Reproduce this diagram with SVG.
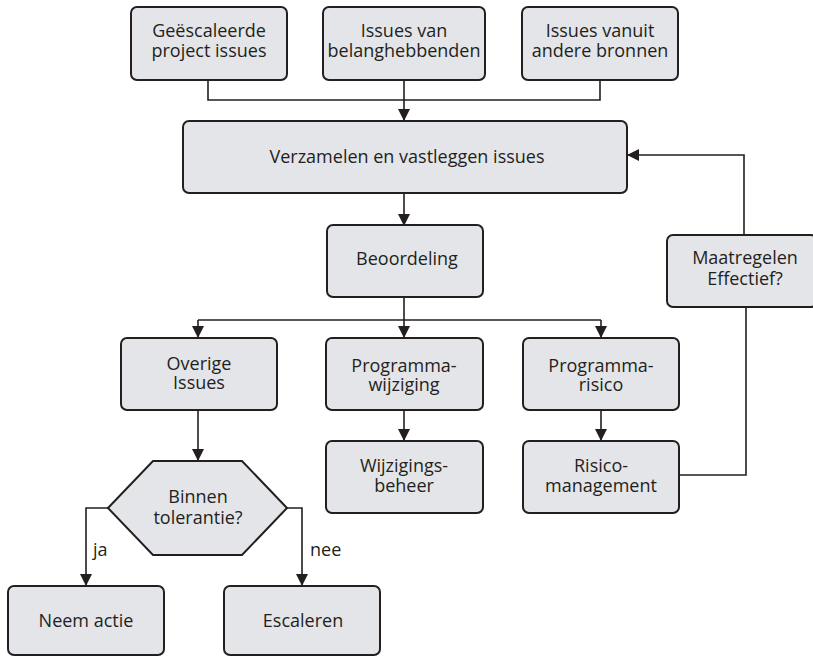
<svg xmlns="http://www.w3.org/2000/svg" width="813" height="657" viewBox="0 0 813 657">
  <style>
    .box { fill: #e4e5e9; stroke: #231f20; stroke-width: 2; }
    .lbl { font-family: "Open Sans", "Noto Sans", "Liberation Sans", sans-serif; font-size: 18px; fill: #231f20; text-anchor: middle; }
    .side { font-family: "Open Sans", "Noto Sans", "Liberation Sans", sans-serif; font-size: 18px; fill: #231f20; }
    .wire { fill: none; stroke: #231f20; stroke-width: 1.6; }
  </style>
  <defs>
    <marker id="arrow" markerWidth="12" markerHeight="12" refX="11" refY="6" orient="auto" markerUnits="userSpaceOnUse">
      <path d="M0,0 L12,6 L0,12 Z" fill="#231f20"/>
    </marker>
  </defs>

  <rect width="813" height="657" fill="#ffffff"/>

  <!-- connectors -->
  <g id="connectors">
    <path class="wire" d="M208,80 V100 H600 V80"/>
    <path class="wire" d="M404,80 V120" marker-end="url(#arrow)"/>
    <path class="wire" d="M404,193 V225" marker-end="url(#arrow)"/>
    <path class="wire" d="M404,297 V320"/>
    <path class="wire" d="M198,320 H601"/>
    <path class="wire" d="M198,320 V337" marker-end="url(#arrow)"/>
    <path class="wire" d="M404,320 V337" marker-end="url(#arrow)"/>
    <path class="wire" d="M601,320 V337" marker-end="url(#arrow)"/>
    <path class="wire" d="M404,410 V440" marker-end="url(#arrow)"/>
    <path class="wire" d="M601,410 V440" marker-end="url(#arrow)"/>
    <path class="wire" d="M198,410 V460" marker-end="url(#arrow)"/>
    <path class="wire" d="M108,508 H86 V585" marker-end="url(#arrow)"/>
    <path class="wire" d="M287,508 H302 V585" marker-end="url(#arrow)"/>
    <path class="wire" d="M679,475 H746 V307"/>
    <path class="wire" d="M744,235 V155 H628" marker-end="url(#arrow)"/>
    <text class="side" x="93" y="556">ja</text>
    <text class="side" x="310" y="556">nee</text>
  </g>

  <g id="geescaleerde">
    <rect class="box" x="131" y="7" width="156" height="73" rx="6"/>
    <text class="lbl" x="209" y="37">Geëscaleerde</text>
    <text class="lbl" x="209" y="57">project issues</text>
  </g>
  <g id="belanghebbenden">
    <rect class="box" x="323" y="7" width="162" height="73" rx="6"/>
    <text class="lbl" x="404" y="37">Issues van</text>
    <text class="lbl" x="404" y="57">belanghebbenden</text>
  </g>
  <g id="andere-bronnen">
    <rect class="box" x="522" y="7" width="156" height="73" rx="6"/>
    <text class="lbl" x="600" y="37">Issues vanuit</text>
    <text class="lbl" x="600" y="57">andere bronnen</text>
  </g>
  <g id="verzamelen">
    <rect class="box" x="183" y="121" width="444" height="72" rx="6"/>
    <text class="lbl" x="407" y="163">Verzamelen en vastleggen issues</text>
  </g>
  <g id="beoordeling">
    <rect class="box" x="327" y="225" width="156" height="72" rx="6"/>
    <text class="lbl" x="407" y="265">Beoordeling</text>
  </g>
  <g id="maatregelen">
    <rect class="box" x="667" y="235" width="150" height="72" rx="6"/>
    <text class="lbl" x="745" y="264">Maatregelen</text>
    <text class="lbl" x="745" y="285">Effectief?</text>
  </g>
  <g id="overige">
    <rect class="box" x="121" y="338" width="156" height="72" rx="6"/>
    <text class="lbl" x="199" y="370">Overige</text>
    <text class="lbl" x="199" y="389">Issues</text>
  </g>
  <g id="programma-wijziging">
    <rect class="box" x="326" y="338" width="157" height="72" rx="6"/>
    <text class="lbl" x="404" y="372">Programma-</text>
    <text class="lbl" x="404" y="391">wijziging</text>
  </g>
  <g id="programma-risico">
    <rect class="box" x="523" y="338" width="156" height="72" rx="6"/>
    <text class="lbl" x="601" y="372">Programma-</text>
    <text class="lbl" x="601" y="391">risico</text>
  </g>
  <g id="wijzigingsbeheer">
    <rect class="box" x="326" y="441" width="157" height="72" rx="6"/>
    <text class="lbl" x="404" y="472">Wijzigings-</text>
    <text class="lbl" x="404" y="492">beheer</text>
  </g>
  <g id="risicomanagement">
    <rect class="box" x="523" y="441" width="156" height="72" rx="6"/>
    <text class="lbl" x="601" y="472">Risico-</text>
    <text class="lbl" x="601" y="492">management</text>
  </g>
  <g id="binnen-tolerantie">
    <polygon class="box" points="108,508 153,461 242,461 287,508 242,555 153,555"/>
    <text class="lbl" x="198" y="503">Binnen</text>
    <text class="lbl" x="198" y="524">tolerantie?</text>
  </g>
  <g id="neem-actie">
    <rect class="box" x="8" y="586" width="156" height="69" rx="6"/>
    <text class="lbl" x="86" y="627">Neem actie</text>
  </g>
  <g id="escaleren">
    <rect class="box" x="224" y="586" width="156" height="69" rx="6"/>
    <text class="lbl" x="303" y="627">Escaleren</text>
  </g>
</svg>
